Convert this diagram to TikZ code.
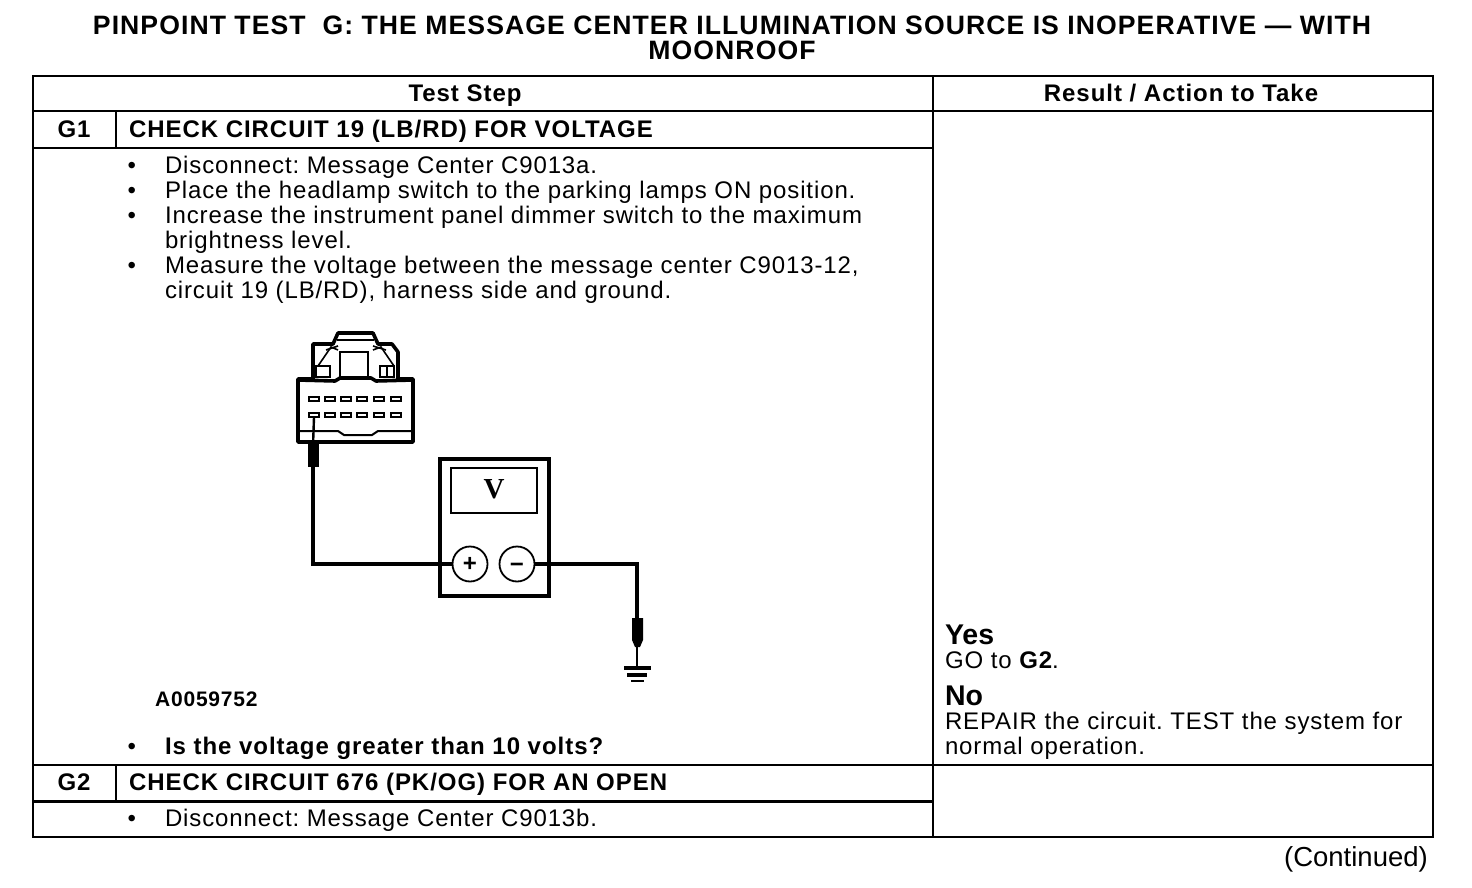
\documentclass[tikz,border=0pt]{standalone}
\usepackage{fontspec}
\setmainfont{Liberation Sans}
\newfontfamily\bodyf[LetterSpace=3.7]{Liberation Sans}
\newfontfamily\headf[LetterSpace=4]{Liberation Sans}
\newfontfamily\serf{Liberation Serif}
\frenchspacing
\tikzset{
 rule/.style={line width=2pt,line cap=rect},
 rulethick/.style={line width=3pt},
 txt/.style={anchor=base west,inner sep=0pt,outer sep=0pt,font=\fontsize{24}{25}\bodyf},
 btxt/.style={anchor=base west,inner sep=0pt,outer sep=0pt,font=\fontsize{24}{25}\headf\bfseries},
 ctr/.style={anchor=base,inner sep=0pt,outer sep=0pt,font=\fontsize{24}{25}\headf\bfseries},
 ttl/.style={anchor=base,inner sep=0pt,outer sep=0pt,font=\fontsize{26.6}{27}\headf\bfseries},
 big/.style={anchor=base west,inner sep=0pt,outer sep=0pt,font=\fontsize{28.5}{29}\selectfont\bfseries},
 wire/.style={line width=3.8pt,line cap=butt,line join=miter},
 conn/.style={line width=3.6pt,line join=round},
 fine/.style={line width=1.6pt},
 pin/.style={draw,line width=2pt,minimum width=10pt,minimum height=4.5pt,inner sep=0pt,outer sep=0pt,fill=white},
 probe/.style={fill=black,draw=none},
 terminal/.style={circle,draw,line width=1.8pt,fill=white,minimum size=35pt,inner sep=0pt,outer sep=0pt},
}
\begin{document}
\begin{tikzpicture}[x=1pt,y=-1pt]
\useasboundingbox (0,0) rectangle (1472,888);
% title
\node[ttl] (t1) at (732,35) {PINPOINT TEST\ \ G: THE MESSAGE CENTER ILLUMINATION SOURCE IS INOPERATIVE — WITH};
\node[ttl] (t2) at (732,60) {MOONROOF};
% table
\draw[rule] (33,76) rectangle (1433,837);
\draw[rule] (33,111) -- (1433,111);
\draw[rule] (933,76) -- (933,837);
\draw[rule] (33,148) -- (933,148);
\draw[rule] (116,111) -- (116,148);
\draw[rule] (33,765) -- (1433,765);
\draw[rule] (116,765) -- (116,801);
\draw[rulethick] (33,801) -- (933,801);
% headers
\node[ctr] (h1) at (465,102) {Test Step};
\node[ctr] (h2) at (1181,102) {Result / Action to Take};
\node[ctr] (g1) at (74,138) {G1};
\node[btxt] (g1t) at (129,138) {CHECK CIRCUIT 19 (LB/RD) FOR VOLTAGE};
\node[ctr] (g2) at (74,790.5) {G2};
\node[btxt] (g2t) at (129,790.5) {CHECK CIRCUIT 676 (PK/OG) FOR AN OPEN};
% bullets
\foreach \n/\y in {a/173,b/198.5,c/223.5,d/273.5,e/754.5,f/826.5}
  \node[txt] (bul\n) at (127.5,\y) {•};
\node[txt] (l1) at (165,173) {Disconnect: Message Center C9013a.};
\node[txt] (l2) at (165,198.5) {Place the headlamp switch to the parking lamps ON position.};
\node[txt] (l3) at (165,223.5) {Increase the instrument panel dimmer switch to the maximum};
\node[txt] (l4) at (165,248.5) {brightness level.};
\node[txt] (l5) at (165,273.5) {Measure the voltage between the message center C9013-12,};
\node[txt] (l6) at (165,298.5) {circuit 19 (LB/RD), harness side and ground.};
\node[anchor=base west,inner sep=0pt,font=\fontsize{21}{22}\bodyf\bfseries] (fig) at (155,706) {A0059752};
\node[btxt] (q) at (165,754.5) {Is the voltage greater than 10 volts?};
\node[txt] (l7) at (165,826.5) {Disconnect: Message Center C9013b.};
% results
\node[big] (yes) at (945,644) {Yes};
\node[txt] (go) at (945,668.5) {GO to {\bfseries G2}.};
\node[big] (no) at (945,705) {No};
\node[txt] (r1) at (945,729.5) {REPAIR the circuit. TEST the system for};
\node[txt] (r2) at (945,754.5) {normal operation.};
\node[anchor=base east,inner sep=0pt,font=\fontsize{27.5}{28}\selectfont] (cont) at (1428,866) {(Continued)};
% connector body
\draw[conn] (298,442) -- (298,379) -- (313,379) -- (313,344) -- (333,344) -- (338,333) -- (373,333) -- (378,344) -- (392,344) -- (398,352) -- (398,379) -- (413,379) -- (413,442) -- cycle;
\draw[conn] (298,380) -- (335,381) -- (340,378) -- (371,378) -- (376,381) -- (413,380);
\draw[line width=2.2pt] (340,378) -- (340,352) -- (368,352) -- (368,378);
\draw[line width=2.2pt] (337,340) -- (374,340);
\draw[fine] (318,366) -- (331,347) -- (338,350) (394,366) -- (381,347) -- (373,350);
\draw[fine] (326,350) -- (338,346) (386,350) -- (373,346);
\draw[line width=2pt] (316,366) rectangle (330,377);
\draw[line width=2pt] (380,366) rectangle (394,377);
\draw[line width=2pt] (387,366) -- (387,377);
\draw[line width=2pt] (300,431) -- (338,431) -- (344,435) -- (372,435) -- (378,431) -- (411,431);
\foreach \i/\x in {1/314,2/330,3/346,4/362,5/379,6/396}{
  \node[pin] (pa\i) at (\x,399) {};
  \node[pin] (pb\i) at (\x,415) {};
}
% probe at connector
\coordinate (pbot) at (313,467);
\draw[line width=2.4pt] (pb1.south) -- (313,446);
\fill[probe] (308,442) -- (319,442) -- (319,467) -- (308,467) -- cycle;
% meter
\node[draw,line width=3.6pt,minimum width=109pt,minimum height=137pt,inner sep=0pt,outer sep=0pt,anchor=north west] (meter) at (440,459) {};
\node[draw,line width=2pt,minimum width=86pt,minimum height=45pt,inner sep=0pt,outer sep=0pt,anchor=north west,font=\fontsize{29}{29}\serf\bfseries] (disp) at (451,468) {\raisebox{2pt}{V}};
\node[terminal,font=\fontsize{24}{24}\selectfont\bfseries] (plus) at (470,564) {+};
\node[terminal,font=\fontsize{24}{24}\selectfont\bfseries] (minus) at (517,564) {\smash{\raisebox{-8pt}{−}}};
% wires
\draw[wire] (pbot) -- (313,564) -- (plus.west);
\coordinate (gtop) at (637,618);
\draw[wire] (minus.east) -- (637,564) -- (gtop);
\fill[probe] (632,618) -- (643,618) -- (643,640) -- (640,647) -- (635,647) -- (632,640) -- cycle;
\coordinate (gnd) at (637,668);
\draw[line width=2.8pt] (637,644) -- (gnd);
\draw[line width=3.6pt] (624,668) -- (651,668);
\draw[line width=3.2pt] (627,675) -- (647,675);
\draw[line width=2.8pt] (631,681) -- (644,681);
\end{tikzpicture}
\end{document}
